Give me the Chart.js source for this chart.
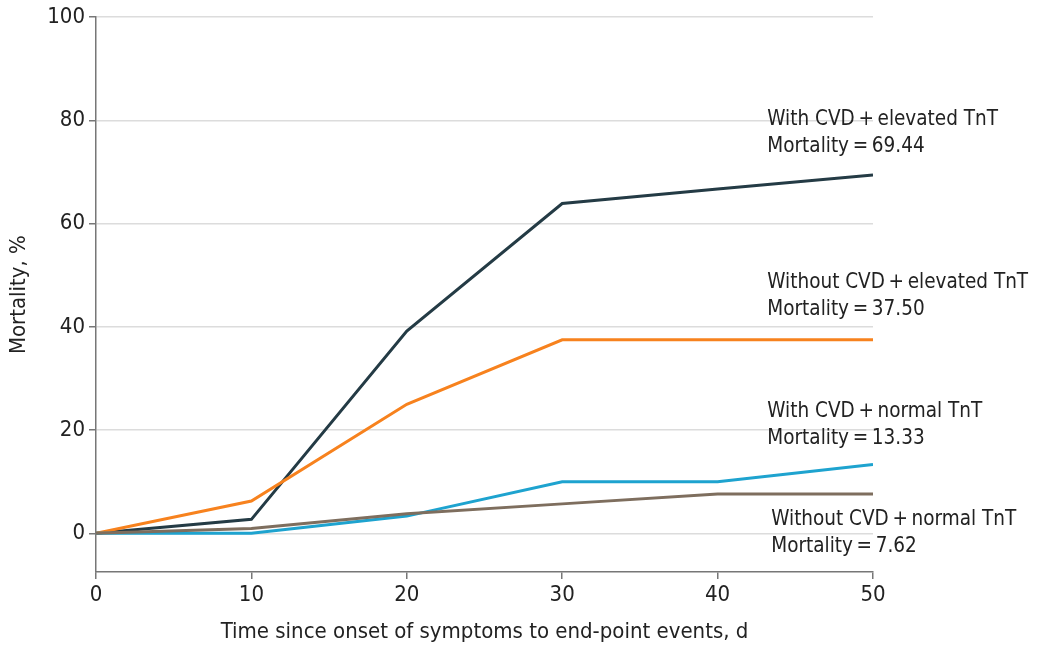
<!DOCTYPE html>
<html><head><meta charset="utf-8">
<script src="https://cdn.jsdelivr.net/npm/chart.js@4/dist/chart.umd.min.js"></script>
<style>html,body{margin:0;padding:0;background:#fff}#wrap{width:1042px;height:649px}</style>
</head><body><div id="wrap"><canvas id="c" width="1042" height="649"></canvas></div>
<script>
const days = [0, 10, 20, 30, 40, 50];
const cvdElevated = [0, 2.7, 39.2, 63.9, 66.7, 69.44];
const noCvdElevated = [0, 6.25, 25.0, 37.5, 37.5, 37.5];
const cvdNormal = [0, 0, 3.33, 10.0, 10.0, 13.33];
const noCvdNormal = [0, 0.95, 3.8, 5.7, 7.62, 7.62];
const yTicks = [0, 20, 40, 60, 80, 100];
const seriesNames = ["With CVD\u2009+\u2009elevated TnT", "Without CVD\u2009+\u2009elevated TnT", "With CVD\u2009+\u2009normal TnT", "Without CVD\u2009+\u2009normal TnT"];
const finalLabels = ["Mortality\u2009=\u200969.44", "Mortality\u2009=\u200937.50", "Mortality\u2009=\u200913.33", "Mortality\u2009=\u20097.62"];
const labelAnchors = [[43.2, 80.2], [43.2, 48.6], [43.2, 23.5], [43.45, 2.6]];

const FONT = "'DejaVu Sans Condensed', 'Liberation Sans Narrow', Roboto, sans-serif";
const colors = ["#243b45", "#f7821e", "#1ea3cf", "#7e6e5e"];
const mk = arr => days.map((d, i) => ({x: d, y: arr[i]}));

const labelPlugin = {
  id: 'endLabels',
  afterDatasetsDraw(chart) {
    const ctx = chart.ctx, xs = chart.scales.x, ys = chart.scales.y;
    ctx.save();
    ctx.font = "20.5px " + FONT;
    ctx.fillStyle = "#222";
    ctx.textBaseline = "middle";
    labelAnchors.forEach((a, i) => {
      const px = xs.getPixelForValue(a[0]), py = ys.getPixelForValue(a[1]);
      ctx.fillText(seriesNames[i], px, py);
      ctx.fillText(finalLabels[i], px, py + 27);
    });
    ctx.restore();
  }
};

new Chart(document.getElementById('c'), {
  type: 'line',
  data: {
    datasets: [
      {label: seriesNames[3], data: mk(noCvdNormal), borderColor: colors[3]},
      {label: seriesNames[2], data: mk(cvdNormal), borderColor: colors[2]},
      {label: seriesNames[1], data: mk(noCvdElevated), borderColor: colors[1]},
      {label: seriesNames[0], data: mk(cvdElevated), borderColor: colors[0]}
    ].map(d => Object.assign(d, {borderWidth: 3, pointRadius: 0, tension: 0, fill: false}))
  },
  options: {
    responsive: false,
    animation: false,
    layout: {padding: {top: 14, right: 169, left: 0, bottom: 0}},
    plugins: {legend: {display: false}, tooltip: {enabled: false}},
    scales: {
      x: {
        type: 'linear', min: 0, max: 50,
        ticks: {stepSize: 10, color: "#222", font: {size: 22, family: FONT}, padding: 3},
        grid: {drawOnChartArea: false, drawTicks: true, tickLength: 7, color: "#777", lineWidth: 1.5},
        border: {color: "#777", width: 1.5},
        title: {display: true, text: "Time since onset of symptoms to end-point events, d", color: "#222", font: {size: 22, family: FONT}, padding: {top: 0}},
        afterFit(s) { s.height = 77; }
      },
      y: {
        min: -7.5, max: 100,
        afterBuildTicks(s) { s.ticks = yTicks.map(v => ({value: v})); },
        ticks: {color: "#222", font: {size: 22, family: FONT}, padding: 4},
        grid: {color: "#dcdcdc", lineWidth: 1.5, tickLength: 7, tickColor: "#777", drawTicks: true},
        border: {color: "#777", width: 1.5},
        title: {display: true, text: "Mortality, %", color: "#222", font: {size: 22, family: FONT}, padding: {top: 6, bottom: 0}},
        afterFit(s) { s.width = 96; }
      }
    }
  },
  plugins: [labelPlugin]
});
</script></body></html>
